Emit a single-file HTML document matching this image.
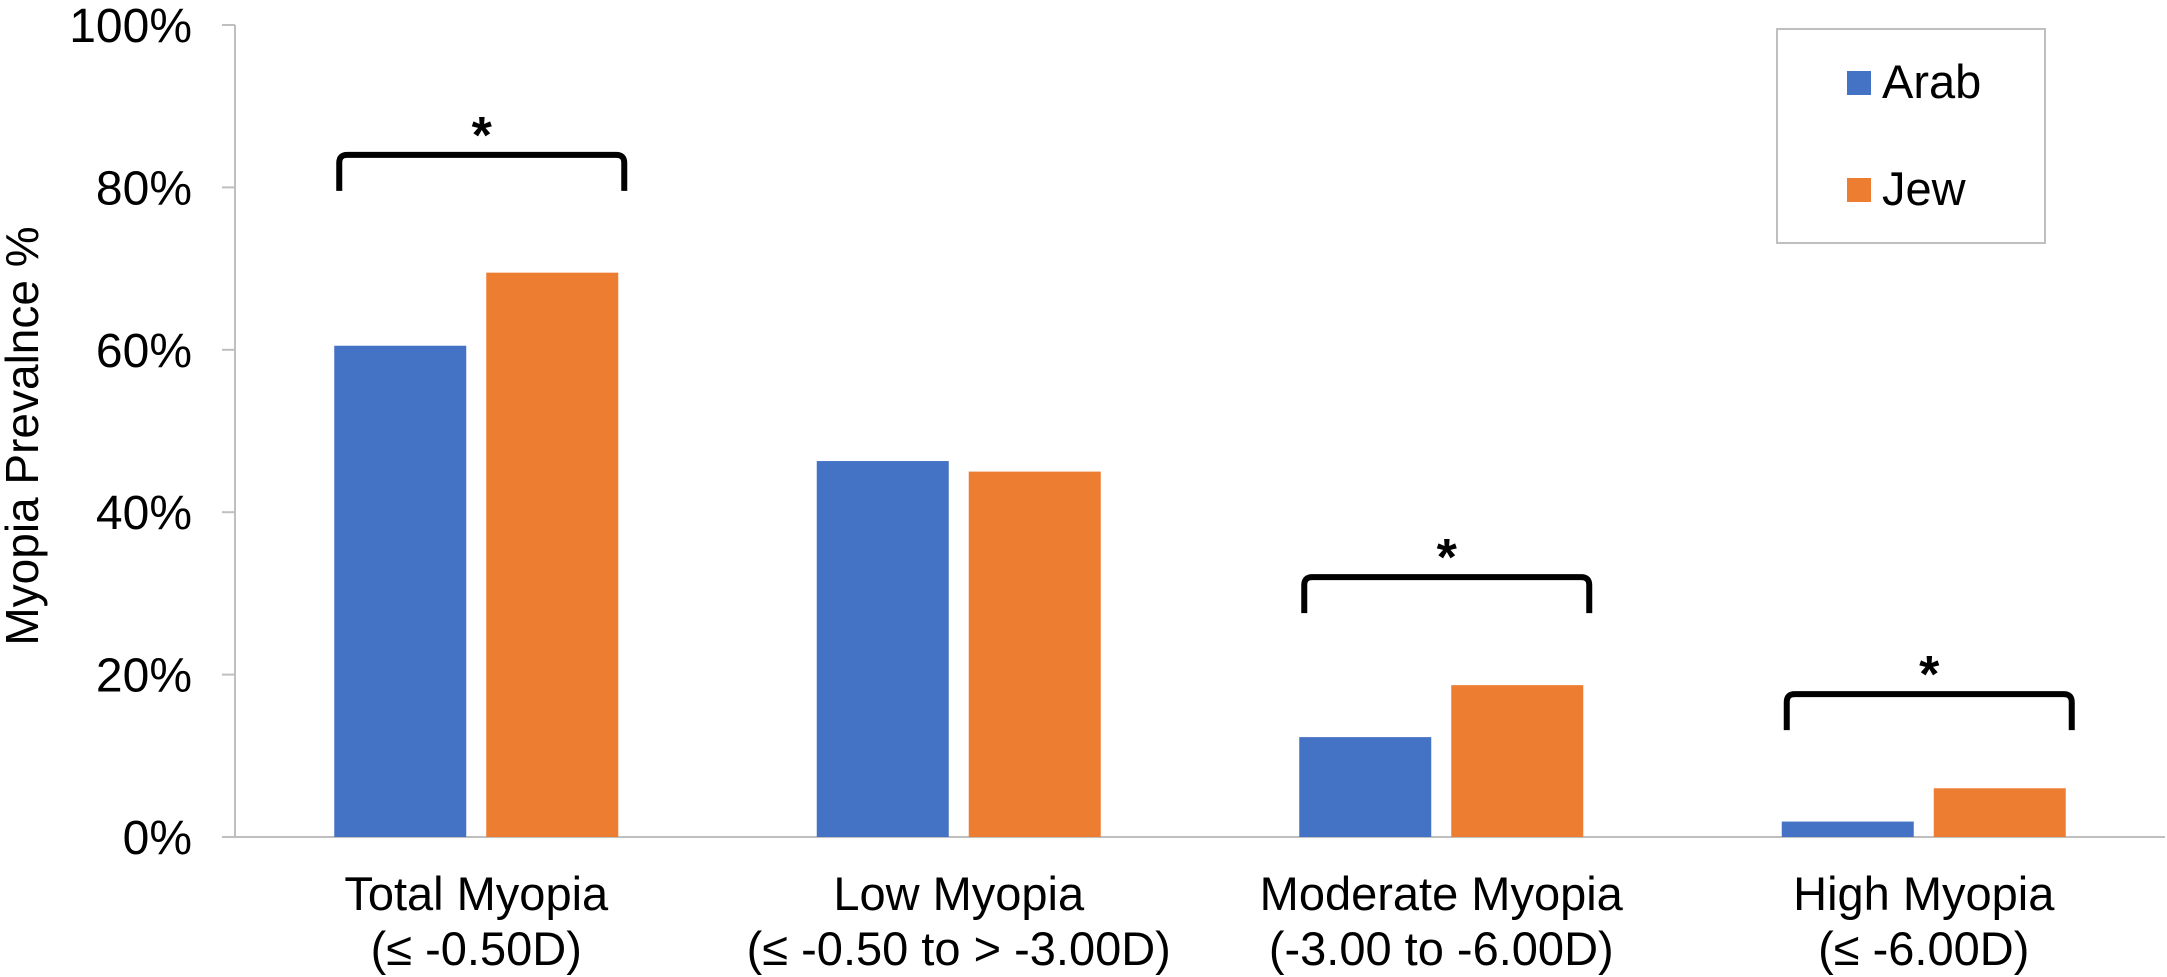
<!DOCTYPE html>
<html><head><meta charset="utf-8"><style>
html,body{margin:0;padding:0;background:#fff;}
svg{display:block;font-family:"Liberation Sans",Arial,sans-serif;}
</style></head><body>
<svg id="chart" width="2167" height="977" viewBox="0 0 2167 977">
<g id="axes"></g>
<g id="bars"></g>
<g id="ann"></g>
<text transform="translate(38,436) rotate(-90)" text-anchor="middle" font-size="46" fill="#000">Myopia Prevalnce %</text>
<g>
<rect x="1777" y="29" width="268" height="214" fill="#fff" stroke="#bfbfbf" stroke-width="2"/>
<rect x="1847" y="71" width="24" height="24" fill="#4472c4"/>
<text x="1882" y="98" font-size="47" fill="#000">Arab</text>
<rect x="1847" y="178" width="24" height="24" fill="#ed7d31"/>
<text x="1882" y="205" font-size="47" fill="#000">Jew</text>
</g>
</svg>
<script>
const categories = ["Total Myopia", "Low Myopia", "Moderate Myopia", "High Myopia"];
const subLabels = ["(≤ -0.50D)", "(≤ -0.50 to > -3.00D)", "(-3.00 to -6.00D)", "(≤ -6.00D)"];
const arabValues = [60.5, 46.3, 12.3, 1.9];
const jewValues = [69.5, 45.0, 18.7, 6.0];
const yTicks = [0, 20, 40, 60, 80, 100];
const yTickLabels = ["0%", "20%", "40%", "60%", "80%", "100%"];
const significant = [true, false, true, true];
const bracketLevels = [84, 0, 32, 17.6];

const NS = "http://www.w3.org/2000/svg";
const X0 = 235, X1 = 2165, Y0 = 837, Y100 = 25;
const catW = (X1 - X0) / categories.length;
const barW = 132, gap = 20;
function yScale(v){ return Y0 - (Y0 - Y100) * v / 100; }
function catCenter(i){ return X0 + catW * (i + 0.5); }
function mk(tag, attrs, parent){ const e = document.createElementNS(NS, tag); for (const k in attrs) e.setAttribute(k, attrs[k]); parent.appendChild(e); return e; }

const axes = document.getElementById('axes');
const yAxis = mk('line', {x1:X0, y1:Y100, x2:X0, y2:Y0, stroke:'#bfbfbf', 'stroke-width':2}, axes);


const xAxis = mk('line', {x1:X0-13, y1:Y0, x2:X1, y2:Y0, stroke:'#bfbfbf', 'stroke-width':2}, axes);


yTicks.forEach((t, i) => {
  const y = yScale(t);
  const tk = mk('line', {x1:X0-13, y1:y, x2:X0, y2:y, stroke:'#bfbfbf', 'stroke-width':2}, axes);
  
  
  const tl = mk('text', {x:192, y:y+17, 'text-anchor':'end', 'font-size':48, fill:'#000'}, axes);
  tl.textContent = yTickLabels[i];
  
  
});
categories.forEach((c, i) => {
  const cx = catCenter(i);
  const l1 = mk('text', {x:cx, y:910, 'text-anchor':'middle', 'font-size':47, fill:'#000'}, axes);
  l1.textContent = c;
  
  
  const l2 = mk('text', {x:cx, y:965, 'text-anchor':'middle', 'font-size':47, fill:'#000'}, axes);
  l2.textContent = subLabels[i];
  
  
});

const bars = document.getElementById('bars');
categories.forEach((c, i) => {
  const cx = catCenter(i);
  const ya = yScale(arabValues[i]);
  const ba = mk('rect', {x:cx-gap/2-barW, y:ya, width:barW, height:Y0-ya, fill:'#4472c4'}, bars);
  
  
  const yj = yScale(jewValues[i]);
  const bj = mk('rect', {x:cx+gap/2, y:yj, width:barW, height:Y0-yj, fill:'#ed7d31'}, bars);
  
  
});

const ann = document.getElementById('ann');
categories.forEach((c, i) => {
  if (!significant[i]) return;
  const cx = catCenter(i);
  const xl = cx - gap/2 - barW + 5, xr = cx + gap/2 + barW + 6;
  const yt = yScale(bracketLevels[i]);
  const yb = yt + 36;
  const br = mk('path', {d:`M${xl},${yb} L${xl},${yt+8} Q${xl},${yt} ${xl+8},${yt} L${xr-8},${yt} Q${xr},${yt} ${xr},${yt+8} L${xr},${yb}`, fill:'none', stroke:'#000', 'stroke-width':6}, ann);
  
  
  const st = mk('text', {x:(xl+xr)/2, y:yt-2, 'text-anchor':'middle', 'font-size':52, 'font-weight':'bold', fill:'#000'}, ann);
  st.textContent = '*';
  
  
});
</script>
</body></html>
